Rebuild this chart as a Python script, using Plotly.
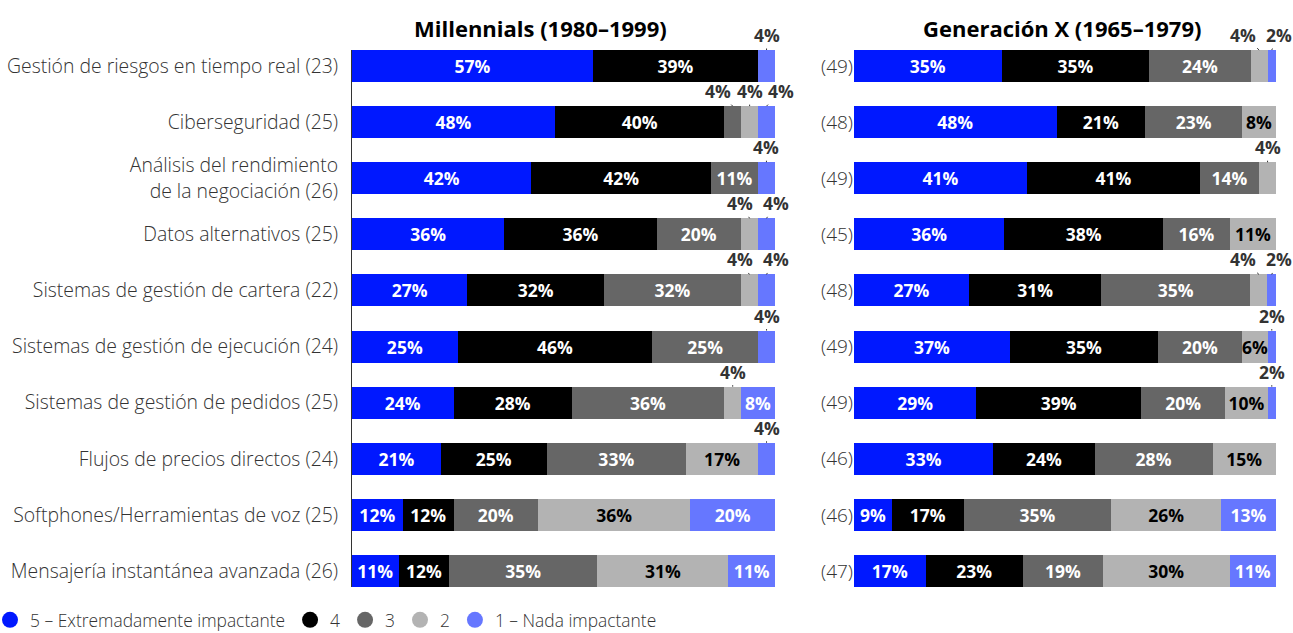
import plotly.graph_objects as go

# ---------------- data ----------------
categories = [
    "Gestión de riesgos en tiempo real",
    "Ciberseguridad",
    "Análisis del rendimiento<br>de la negociación",
    "Datos alternativos",
    "Sistemas de gestión de cartera",
    "Sistemas de gestión de ejecución",
    "Sistemas de gestión de pedidos",
    "Flujos de precios directos",
    "Softphones/Herramientas de voz",
    "Mensajería instantánea avanzada",
]
mill_n = [23, 25, 26, 25, 22, 24, 25, 24, 25, 26]
genx_n = [49, 48, 49, 45, 48, 49, 49, 46, 46, 47]

level_names = ["5 – Extremadamente impactante", "4", "3", "2", "1 – Nada impactante"]
level_colors = ["#0018FF", "#000000", "#666666", "#B3B3B3", "#6677FF"]
text_colors = ["#FFFFFF", "#FFFFFF", "#FFFFFF", "#000000", "#FFFFFF"]

mill_5 = [57, 48, 42, 36, 27, 25, 24, 21, 12, 11]
mill_4 = [39, 40, 42, 36, 32, 46, 28, 25, 12, 12]
mill_3 = [0, 4, 11, 20, 32, 25, 36, 33, 20, 35]
mill_2 = [0, 4, 0, 4, 4, 0, 4, 17, 36, 31]
mill_1 = [4, 4, 4, 4, 4, 4, 8, 4, 20, 11]

genx_5 = [35, 48, 41, 36, 27, 37, 29, 33, 9, 17]
genx_4 = [35, 21, 41, 38, 31, 35, 39, 24, 17, 23]
genx_3 = [24, 23, 14, 16, 35, 20, 20, 28, 35, 19]
genx_2 = [4, 8, 4, 11, 4, 6, 10, 15, 26, 30]
genx_1 = [2, 0, 0, 0, 2, 2, 2, 0, 13, 11]

titles = ["Millennials (1980–1999)", "Generación X (1965–1979)"]

# ---------------- figure ----------------
FONT = "Open Sans"
TXT = "#333333"
SMALL = 4          # values at or below this are labelled above the bar
HALF = 0.285       # half bar thickness in category units
SPREAD2 = 8.5      # label spacing (data units) for two adjacent small labels
SPREAD3 = 7.5      # label spacing for three adjacent small labels
MAXLAB = [102.0, 100.6]   # right-most label centre allowed per panel

fig = go.Figure()
rows = list(range(len(categories)))
panels = [
    ("x", "y", [mill_5, mill_4, mill_3, mill_2, mill_1]),
    ("x2", "y2", [genx_5, genx_4, genx_3, genx_2, genx_1]),
]
annotations = []

for p, (xa, ya, series) in enumerate(panels):
    totals = [sum(s[i] for s in series) for i in rows]
    scaled = [[s[i] * 100.0 / totals[i] for i in rows] for s in series]
    for k, s in enumerate(series):
        fig.add_trace(go.Bar(
            x=scaled[k], y=rows, orientation="h", xaxis=xa, yaxis=ya,
            marker=dict(color=level_colors[k], line=dict(width=0)),
            text=[f"{v}%" if v > SMALL else "" for v in s],
            textposition="inside", insidetextanchor="middle", textangle=0,
            textfont=dict(family=FONT, size=17.5, color=text_colors[k], weight=700),
            showlegend=False, hoverinfo="skip", cliponaxis=False,
        ))
    # labels above bar for small segments
    for i in rows:
        start = 0.0
        segs = []
        for k, s in enumerate(series):
            w = scaled[k][i]
            if 0 < s[i] <= SMALL:
                segs.append((k, start + w / 2.0, s[i]))
            start += w
        groups = []
        for seg in segs:
            if groups and seg[0] == groups[-1][-1][0] + 1:
                groups[-1].append(seg)
            else:
                groups.append([seg])
        for g in groups:
            center = sum(c for _, c, _ in g) / len(g)
            n = len(g)
            sp = SPREAD3 if n > 2 else SPREAD2
            xs = [center + (j - (n - 1) / 2.0) * sp for j in range(n)]
            shift = max(0.0, xs[-1] - MAXLAB[p])
            xs = [v - shift for v in xs]
            for (k, c, v), lx in zip(g, xs):
                annotations.append(dict(
                    x=c, y=i - HALF, xref=xa, yref=ya,
                    ax=lx, axref=xa, ay=-15, ayref="pixel",
                    text=f"<b>{v}%</b>", showarrow=True, arrowhead=0,
                    arrowwidth=1, arrowcolor=TXT, standoff=0, startstandoff=0,
                    font=dict(family=FONT, size=17.5, color=TXT),
                ))

# titles
title_x = [0.2035, 0.768]
for t, tx in zip(titles, title_x):
    annotations.append(dict(
        x=tx, y=1.041, xref="paper", yref="paper", text=f"<b>{t}</b>",
        showarrow=False, font=dict(family=FONT, size=22, color="#000000"),
        xanchor="center", yanchor="middle",
    ))

# legend entries (circle markers)
for k in range(5):
    fig.add_trace(go.Scatter(
        x=[None], y=[None], mode="markers", name=level_names[k],
        marker=dict(symbol="circle", size=16, color=level_colors[k]),
        xaxis="x", yaxis="y", showlegend=True, hoverinfo="skip",
    ))

left_dom = [0.0, 423 / 924]
right_dom = [502 / 924, 1.0]
yrange = [len(categories) - 1 + HALF, -HALF]

fig.update_layout(
    width=1293, height=633,
    margin=dict(l=352, r=17, t=50, b=46, autoexpand=False),
    paper_bgcolor="white", plot_bgcolor="white",
    barmode="stack", bargap=1 - 2 * HALF,
    font=dict(family=FONT, color=TXT),
    uniformtext=dict(minsize=17.5, mode="show"),
    xaxis=dict(domain=left_dom, range=[0, 100], visible=False, fixedrange=True),
    xaxis2=dict(domain=right_dom, range=[0, 100], visible=False, anchor="y2", fixedrange=True),
    yaxis=dict(
        domain=[0, 1], anchor="x", range=yrange,
        tickmode="array", tickvals=rows,
        ticktext=[f"{c} ({n})" for c, n in zip(categories, mill_n)],
        tickfont=dict(family=FONT, size=19.4, color=TXT, weight=300),
        showline=True, linecolor="#333333", linewidth=1,
        ticks="outside", ticklen=9, tickcolor="rgba(0,0,0,0)",
        showgrid=False, zeroline=False, fixedrange=True, automargin=False,
    ),
    yaxis2=dict(
        domain=[0, 1], anchor="x2", range=yrange,
        tickmode="array", tickvals=rows,
        ticktext=[f"({n})" for n in genx_n],
        tickfont=dict(family=FONT, size=19, color=TXT, weight=300),
        showline=False, ticks="", showgrid=False, zeroline=False,
        fixedrange=True, automargin=False,
    ),
    annotations=annotations,
    legend=dict(
        orientation="h", x=-362 / 924, xanchor="left",
        y=-0.0615, yanchor="middle",
        font=dict(family=FONT, size=17.4, color=TXT, weight=300),
        itemsizing="trace", itemwidth=30, tracegroupgap=0,
        bgcolor="rgba(0,0,0,0)", traceorder="normal",
    ),
    showlegend=True,
)

fig.write_html(
    "out.html",
    config={"displayModeBar": False},
    post_script="document.body.style.margin='0';document.body.style.padding='0';",
)
